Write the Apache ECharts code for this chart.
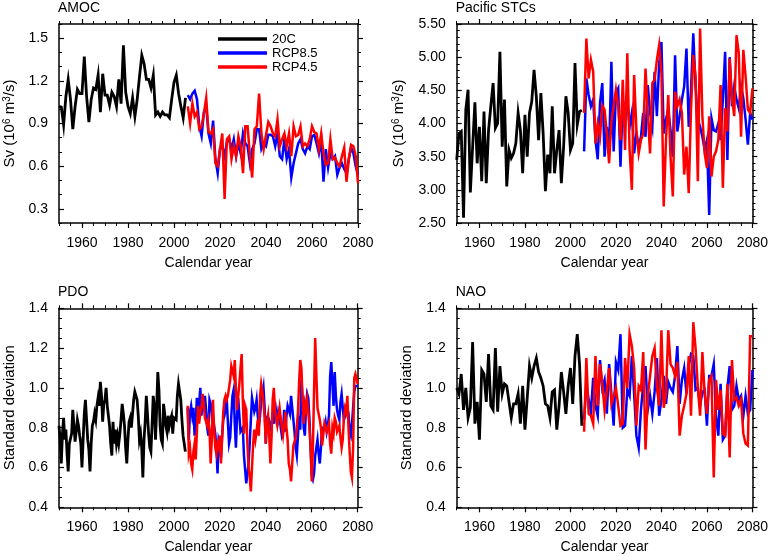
<!DOCTYPE html>
<html><head><meta charset="utf-8">
<script src="https://cdn.jsdelivr.net/npm/echarts@6/dist/echarts.min.js"></script>
<style>html,body{margin:0;padding:0;background:#fff}#c{width:771px;height:556px}</style>
</head><body><div id="c"></div>
<script>
// ---------------- data ----------------
const seriesNames = ['20C', 'RCP8.5', 'RCP4.5'];
const seriesColors = ['#000000', '#0000ff', '#ff0000'];
const xTickLabels = [1960, 1980, 2000, 2020, 2040, 2060, 2080];

// AMOC (Sv 10^6 m^3/s), annual 1950-2005 / 2006-2080
const amoc20C = [1.02,1.015,0.89,1.09,1.21,1.07,0.86,1.02,1.14,1.11,1.11,1.37,1.09,0.91,1.07,1.15,1.14,1.24,0.98,1.25,1.10,1.10,1.03,1.12,1.09,1.02,1.21,1.04,1.45,1.12,1.02,0.97,1.08,0.95,1.07,1.23,1.38,1.32,1.21,1.21,1.15,1.24,0.96,0.98,0.95,0.98,0.96,0.96,0.94,1.07,1.19,1.24,1.11,1.02,0.94,1.08];
const amocRCP85 = [1.10,1.07,1.11,1.13,1.07,0.88,0.81,0.98,1.02,0.83,0.76,0.92,0.65,0.55,0.72,0.74,0.67,0.77,0.79,0.72,0.79,0.67,0.76,0.69,0.83,0.76,0.74,0.62,0.72,0.76,0.86,0.86,0.72,0.76,0.74,0.82,0.82,0.81,0.74,0.83,0.67,0.65,0.79,0.65,0.72,0.52,0.62,0.69,0.76,0.79,0.72,0.69,0.74,0.72,0.81,0.82,0.76,0.69,0.79,0.49,0.72,0.59,0.69,0.65,0.67,0.54,0.59,0.62,0.58,0.55,0.65,0.73,0.69,0.60,0.54];
const amocRCP45 = [1.02,0.90,1.04,0.95,0.98,0.86,0.88,0.97,1.08,0.84,0.83,0.86,0.62,0.60,0.72,0.83,0.37,0.79,0.81,0.65,0.74,0.67,0.81,0.74,0.55,0.88,0.88,0.67,0.52,0.86,0.88,1.11,0.83,0.72,0.82,0.91,0.88,0.83,0.81,0.93,0.74,0.79,0.83,0.74,0.83,0.67,0.88,0.81,0.82,0.88,0.74,0.76,0.74,0.79,0.88,0.84,0.83,0.72,0.83,0.69,0.61,0.62,0.79,0.65,0.66,0.62,0.60,0.67,0.73,0.49,0.65,0.75,0.74,0.67,0.48];

// Pacific STCs
const stc20C = [3.45,3.85,3.88,2.58,4.21,4.51,2.96,3.65,4.32,3.40,3.95,3.13,4.18,3.10,3.90,4.26,4.61,3.93,4.00,5.08,3.65,4.36,3.05,3.60,3.48,3.55,3.70,4.16,3.90,3.25,4.13,3.50,4.16,4.33,4.81,4.41,3.75,4.46,3.85,2.98,3.53,3.25,4.26,3.25,3.60,3.90,3.10,3.65,4.41,4.16,3.60,3.70,4.91,3.98,4.18,4.20];
const stcRCP85 = [3.58,4.68,4.43,4.26,4.36,3.75,3.46,4.31,4.61,3.50,3.95,3.58,4.93,3.58,4.46,4.53,3.35,4.36,4.21,4.33,3.95,4.16,3.55,3.85,3.65,3.80,4.16,3.80,4.58,4.16,3.95,4.78,4.11,4.91,5.23,3.85,4.06,4.21,3.90,3.50,5.03,3.88,4.11,4.36,4.56,5.13,3.95,4.51,5.36,4.56,4.06,3.95,3.80,3.60,3.75,2.62,4.08,3.90,3.88,4.00,3.75,4.36,5.08,3.45,5.00,4.26,4.56,4.36,4.23,4.56,4.38,4.06,3.68,4.16,4.06];
const stcRCP45 = [4.16,5.28,4.68,4.96,4.78,3.70,4.00,3.80,4.27,4.21,3.85,3.40,4.03,4.26,4.51,4.26,3.75,4.66,3.60,5.06,3.60,3.00,4.73,3.90,3.55,3.75,3.85,4.83,4.16,3.55,4.61,4.66,4.96,5.18,4.76,2.75,3.75,4.43,3.50,2.90,4.48,4.26,4.36,4.16,3.23,3.65,2.95,4.21,5.03,4.71,3.13,5.43,4.11,3.55,3.33,4.11,3.20,3.50,3.58,3.75,4.58,3.03,4.23,3.88,4.98,4.38,4.11,5.33,5.06,3.80,5.11,4.71,4.21,4.16,4.53];

// PDO (half-yearly samples)
const pdo20C = [0.81,0.74,0.62,0.77,0.85,0.74,0.79,0.67,0.58,0.72,0.73,0.77,0.89,0.81,0.73,0.78,0.84,0.81,0.76,0.72,0.60,0.74,0.87,0.94,0.84,0.74,0.69,0.58,0.72,0.81,0.83,0.87,0.84,0.91,0.95,0.91,1.03,0.96,0.83,0.92,0.94,1.00,0.91,0.86,0.81,0.72,0.66,0.83,0.72,0.79,0.72,0.76,0.72,0.77,0.84,0.92,0.87,0.81,0.70,0.62,0.74,0.83,
 0.85,0.80,0.87,0.94,0.98,0.99,0.94,0.86,0.74,0.77,0.70,0.55,0.74,0.83,0.96,0.87,0.77,0.70,0.68,0.81,0.96,0.91,0.74,0.89,1.08,0.99,0.81,0.74,0.72,0.92,0.87,0.81,0.78,0.86,0.81,0.84,0.86,0.77,0.85,0.86,0.84,0.96,1.02,1.02,0.94,0.84,0.76,0.72,0.68];
const pdoRCP85 = [0.90,0.74,0.88,0.91,0.86,0.90,0.76,0.82,0.95,0.85,0.92,1.00,0.86,0.95,0.88,0.96,0.89,0.80,0.76,0.94,0.92,0.88,0.77,0.81,0.77,0.70,0.57,0.74,0.72,0.65,0.76,0.84,0.86,0.85,0.94,0.83,0.72,0.75,0.86,0.96,0.99,0.82,0.70,0.86,0.95,0.86,0.78,0.79,0.80,0.66,0.59,0.52,0.53,0.62,0.72,0.84,0.95,0.95,0.88,0.90,0.94,0.86,0.81,0.86,0.93,0.96,1.00,0.90,0.72,0.86,0.81,0.83,0.80,0.82,0.86,0.82,0.93,0.88,0.81,0.88,0.86,0.80,0.76,0.78,0.89,
 0.78,0.86,0.91,0.90,0.87,0.96,0.90,0.84,0.78,0.70,0.66,0.76,0.86,0.79,1.04,0.94,0.80,0.76,0.90,0.97,0.95,0.84,0.70,0.56,0.54,0.57,0.66,0.70,0.74,0.67,0.62,0.70,0.80,0.81,0.80,0.83,0.78,0.81,0.86,1.06,1.13,1.02,0.91,1.08,0.96,0.89,0.86,0.84,0.93,0.97,0.90,0.84,0.84,0.88,0.90,0.87,0.78,0.76,0.82,0.90,0.98,1.01,1.00,1.01];
const pdoRCP45 = [0.91,0.67,0.70,0.62,0.59,0.68,0.72,0.64,0.77,0.91,0.82,0.88,0.90,0.97,0.92,0.85,
 0.84,0.81,0.84,0.79,0.62,0.74,0.94,0.80,0.70,0.67,0.72,0.70,0.76,0.62,0.75,0.88,0.94,0.96,0.94,0.96,0.97,1.04,1.11,1.12,1.06,1.14,0.99,0.89,0.96,1.02,1.10,1.17,0.94,0.77,0.91,0.89,0.72,0.60,0.55,0.48,0.60,0.72,0.79,0.74,0.78,0.84,0.76,0.96,1.02,0.98,0.93,0.85,0.72,0.82,0.86,0.76,0.62,0.75,0.94,1.00,0.89,0.84,0.81,0.80,0.90,0.90,0.80,0.76,0.81,
 0.88,0.80,0.74,0.62,0.59,0.53,0.62,0.71,0.72,0.75,0.80,0.88,1.03,1.14,1.10,0.95,0.82,0.92,0.89,0.94,0.88,0.80,0.70,0.53,0.70,0.98,1.25,1.07,0.90,0.90,0.84,0.80,0.71,0.76,0.82,0.82,0.78,0.80,0.82,0.72,0.67,0.80,0.77,0.85,0.83,0.78,0.78,0.81,0.75,0.70,0.74,0.85,0.90,0.88,0.96,0.80,0.68,0.58,0.55,0.70,1.05,1.07,1.08,1.02];

// NAO
const nao20C = [1.00,0.97,1.07,0.89,1.00,0.85,0.90,1.23,0.82,0.93,0.74,1.09,1.07,0.93,1.17,0.91,0.89,1.20,0.88,1.11,0.97,1.02,1.01,0.93,0.85,0.92,0.92,0.97,0.82,1.01,0.79,0.95,1.11,1.05,1.11,1.15,1.08,1.05,1.01,0.92,0.91,0.85,0.98,0.99,0.79,0.91,1.08,0.98,0.87,1.01,1.10,0.92,1.16,1.27,1.12,0.81];
const naoRCP85 = [0.84,1.02,0.94,0.88,1.05,0.91,0.86,1.14,1.00,1.04,0.87,1.12,0.97,0.81,1.13,1.09,1.27,0.80,0.81,0.99,0.96,1.16,0.97,0.76,0.70,0.89,1.02,1.11,0.89,0.96,0.87,0.98,1.15,0.86,0.94,1.06,0.92,1.03,1.00,0.98,1.06,1.21,0.92,1.04,1.10,0.97,1.11,1.17,1.16,0.99,1.00,0.91,0.98,0.99,0.81,1.06,1.06,1.12,0.86,0.76,1.02,0.74,0.76,1.00,1.11,0.89,0.91,1.01,0.94,0.96,0.86,0.96,0.87,0.89,1.09];
const naoRCP45 = [0.78,1.15,0.87,0.86,0.82,1.16,0.91,1.12,1.02,0.89,0.99,1.10,0.92,0.96,1.00,0.91,0.81,0.82,1.15,1.00,1.27,1.21,1.10,0.81,1.01,0.99,1.18,0.69,0.96,1.06,1.16,1.20,1.00,0.91,1.29,0.90,0.97,1.29,1.12,1.10,1.06,1.13,0.76,0.86,0.91,0.97,1.16,0.86,1.33,1.20,1.00,0.86,1.18,0.97,0.87,1.04,1.06,0.55,1.04,0.89,0.99,0.77,0.76,1.02,0.65,1.14,0.94,0.95,0.91,0.94,0.77,0.72,0.71,1.26,1.26];

// time axes (years)
function seq(start, step, n) { const a = []; for (let i = 0; i < n; i++) a.push(+(start + i * step).toFixed(2)); return a; }
const annualHist = seq(1950, 1, amoc20C.length);
const annualProj = seq(2006, 1, amocRCP85.length);
const halfHist = seq(1950, 0.5, pdo20C.length);
const halfProj = seq(2006, 0.5, pdoRCP85.length);

// ---------------- layout / styling ----------------
const FONT = '"Liberation Sans", Arial, Helvetica, sans-serif';
const panels = [
  { title: 'AMOC', box: [59, 24, 299, 199], ymin: 0.2, ymax: 1.6, yMajor: [0.3, 0.6, 0.9, 1.2, 1.5], yMinor: 0.1, dec: 1,
    yName: 'Sv (10{sup|6} m{sup|3}/s)', nameGap: 42,
    lines: [[annualHist, amoc20C], [annualProj, amocRCP85], [annualProj, amocRCP45]] },
  { title: 'Pacific STCs', box: [456.7, 24, 297.6, 199], ymin: 2.5, ymax: 5.5, yMajor: [2.5, 3, 3.5, 4, 4.5, 5, 5.5], yMinor: 0.1, dec: 2,
    yName: 'Sv (10{sup|6} m{sup|3}/s)', nameGap: 50,
    lines: [[annualHist, stc20C], [annualProj, stcRCP85], [annualProj, stcRCP45]] },
  { title: 'PDO', box: [59, 308.3, 298.7, 199], ymin: 0.4, ymax: 1.4, yMajor: [0.4, 0.6, 0.8, 1.0, 1.2, 1.4], yMinor: 0.05, dec: 1,
    yName: 'Standard deviation', nameGap: 42,
    lines: [[halfHist, pdo20C], [halfProj, pdoRCP85], [halfProj, pdoRCP45]] },
  { title: 'NAO', box: [456.7, 308.3, 297.6, 199], ymin: 0.4, ymax: 1.4, yMajor: [0.4, 0.6, 0.8, 1.0, 1.2, 1.4], yMinor: 0.05, dec: 1,
    yName: 'Standard deviation', nameGap: 42,
    lines: [[annualHist, nao20C], [annualProj, naoRCP85], [annualProj, naoRCP45]] }
];

const AXL = { color: '#000', width: 1.5 };
const grids = [], xAxes = [], yAxes = [], series = [], titles = [];

panels.forEach((p, k) => {
  const [l, t, w, h] = p.box;
  grids.push({ left: l, top: t, width: w, height: h, containLabel: false });
  titles.push({ text: p.title, left: l - 1, top: t - 23, padding: 0,
    textStyle: { fontSize: 14, fontWeight: 'normal', color: '#000', fontFamily: FONT } });

  const xBase = { type: 'value', gridIndex: k, min: 1950, max: 2080, splitLine: { show: false } };
  xAxes.push(Object.assign({}, xBase, {
    position: 'bottom',
    axisLine: { show: true, onZero: false, lineStyle: AXL },
    axisTick: { show: true, inside: false, length: 5, lineStyle: { color: '#000', width: 1.2 }, customValues: xTickLabels },
    axisLabel: { show: true, customValues: xTickLabels, margin: 13, fontSize: 14, color: '#000', fontFamily: FONT,
      formatter: v => String(Math.round(v)) },
    name: 'Calendar year', nameLocation: 'middle', nameGap: 33,
    nameTextStyle: { fontSize: 14, color: '#000', fontFamily: FONT }
  }));
  xAxes.push(Object.assign({}, xBase, {
    position: 'bottom', interval: 5,
    axisLine: { show: false, onZero: false },
    axisTick: { show: true, inside: false, length: 3, lineStyle: { color: '#000', width: 1 } },
    axisLabel: { show: false }
  }));
  xAxes.push(Object.assign({}, xBase, {
    position: 'top',
    axisLine: { show: true, onZero: false, lineStyle: AXL },
    axisTick: { show: true, inside: false, length: 5, lineStyle: { color: '#000', width: 1.2 }, customValues: xTickLabels },
    axisLabel: { show: false }
  }));
  xAxes.push(Object.assign({}, xBase, {
    position: 'top', interval: 5,
    axisLine: { show: false, onZero: false },
    axisTick: { show: true, inside: false, length: 3, lineStyle: { color: '#000', width: 1 } },
    axisLabel: { show: false }
  }));

  const yBase = { type: 'value', gridIndex: k, min: p.ymin, max: p.ymax, splitLine: { show: false } };
  yAxes.push(Object.assign({}, yBase, {
    position: 'left',
    axisLine: { show: true, onZero: false, lineStyle: AXL },
    axisTick: { show: true, inside: true, length: 5, lineStyle: { color: '#000', width: 1.2 }, customValues: p.yMajor },
    axisLabel: { show: true, customValues: p.yMajor, margin: 11, fontSize: 14, color: '#000', fontFamily: FONT,
      formatter: v => Number(v).toFixed(p.dec) },
    name: p.yName, nameLocation: 'middle', nameRotate: 90, nameGap: p.nameGap,
    nameTextStyle: { fontSize: 15, color: '#000', fontFamily: FONT,
      rich: { sup: { fontSize: 10, verticalAlign: 'top', color: '#000', fontFamily: FONT } } }
  }));
  yAxes.push(Object.assign({}, yBase, {
    position: 'left', interval: p.yMinor,
    axisLine: { show: false, onZero: false },
    axisTick: { show: true, inside: true, length: 3, lineStyle: { color: '#000', width: 1 } },
    axisLabel: { show: false }
  }));
  yAxes.push(Object.assign({}, yBase, {
    position: 'right',
    axisLine: { show: true, onZero: false, lineStyle: AXL },
    axisTick: { show: true, inside: false, length: 5, lineStyle: { color: '#000', width: 1.2 }, customValues: p.yMajor },
    axisLabel: { show: false }
  }));
  yAxes.push(Object.assign({}, yBase, {
    position: 'right', interval: p.yMinor,
    axisLine: { show: false, onZero: false },
    axisTick: { show: true, inside: false, length: 3, lineStyle: { color: '#000', width: 1 } },
    axisLabel: { show: false }
  }));

  p.lines.forEach((ln, i) => {
    const [xs, ys] = ln;
    series.push({
      type: 'line', name: seriesNames[i], xAxisIndex: 4 * k, yAxisIndex: 4 * k,
      data: ys.map((v, j) => [xs[j], v]),
      showSymbol: false, symbol: 'none', clip: true, z: 2 + i,
      lineStyle: { color: seriesColors[i], width: i === 0 ? 2.8 : 2.5, join: 'miter' },
      itemStyle: { color: seriesColors[i] },
      emphasis: { disabled: true }
    });
  });
});

const chart = echarts.init(document.getElementById('c'), null, { renderer: 'canvas' });
chart.setOption({
  animation: false,
  backgroundColor: '#fff',
  textStyle: { fontFamily: FONT },
  title: titles,
  legend: {
    left: 218, top: 32, orient: 'vertical', padding: 0, itemGap: 0,
    itemWidth: 49, itemHeight: 3.5, icon: 'rect',
    data: seriesNames,
    textStyle: { fontSize: 13, color: '#000', fontFamily: FONT, lineHeight: 14 }
  },
  grid: grids, xAxis: xAxes, yAxis: yAxes, series: series
});
</script>
</body></html>
